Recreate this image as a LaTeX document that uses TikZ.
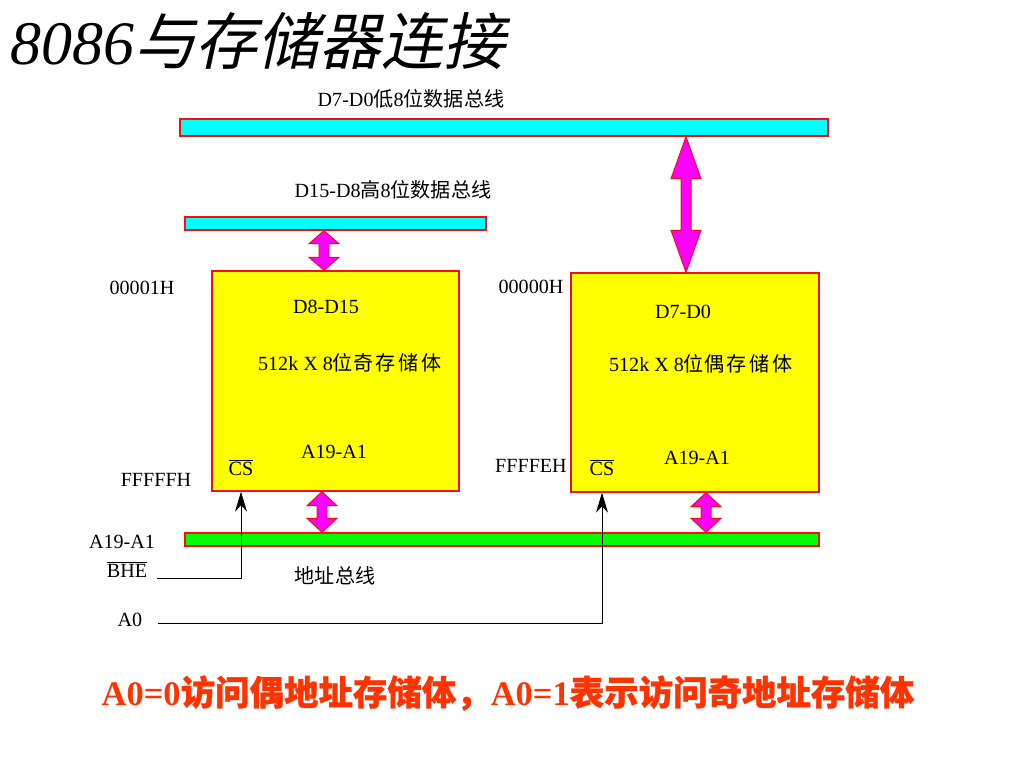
\documentclass[tikz,border=0pt]{standalone}
\usepackage{fontspec}
\setmainfont{Liberation Serif}
\newfontfamily\cjk{Noto Sans CJK SC}
\newfontfamily\cjkit[FakeSlant=0.22]{Noto Sans CJK SC}
\newfontfamily\cjkbf[FakeBold=0.9]{Noto Sans CJK SC}
\usepackage{tikz}
\usetikzlibrary{arrows.meta,positioning,calc,fit}
\definecolor{buscyan}{HTML}{00FFFF}
\definecolor{busgreen}{HTML}{00FF00}
\definecolor{bankyellow}{HTML}{FFFF00}
\definecolor{arrowpink}{HTML}{FF00FF}
\definecolor{edgered}{HTML}{F01010}
\definecolor{notered}{HTML}{FF3300}
\tikzset{
  bus/.style={draw=edgered,line width=1pt,inner sep=0pt},
  bank/.style={draw=edgered,fill=bankyellow,line width=1pt,inner sep=0pt},
  busarrow/.style={draw=edgered,fill=arrowpink,line width=.7pt,line join=miter},
  lbl/.style={font=\fontsize{14.3pt}{17pt}\selectfont,inner sep=1pt},
  sig/.style={-{Stealth[length=5mm,width=3mm]},line width=.6pt,color=black},
}
\newcommand{\fatarrow}[3]{% #1 upper tip, #2 lower tip, #3 head length
  \draw[busarrow] (#1) -- ++(15,#3) -- ++(-10,0) -- ($(#2)+(5,-#3)$) -- ++(10,0)
    -- (#2) -- ++(-15,-#3) -- ++(10,0) -- ($(#1)+(-5,#3)$) -- ++(-10,0) -- cycle;}
\newcommand{\negsig}[1]{$\overline{\mbox{\vphantom{Ty}#1}}$}

\begin{document}
\begin{tikzpicture}[x=0.025cm,y=-0.025cm]
  \useasboundingbox[fill=white] (0,0) rectangle (1024,768);
  \node[anchor=base west,inner sep=0pt,font=\fontsize{44pt}{48pt}\selectfont] (title) at (10,65)
    {\itshape 8086{\cjkit 与存储器连接}};

  % data buses
  \node[bus,fill=buscyan,fit={(180,119) (828,136)}] (lowbus) {};
  \node[lbl] (lowbuslbl) at (411,99) {D7-D0{\cjk 低}8{\cjk 位数据总线}};
  \node[bus,fill=buscyan,fit={(185,217) (486,230)}] (highbus) {};
  \node[lbl] (highbuslbl) at (393,190) {D15-D8{\cjk 高}8{\cjk 位数据总线}};

  % memory banks
  \node[bank,fit={(212,271) (459,491)}] (oddbank) {};
  \node[bank,fit={(571,273) (819,492)}] (evenbank) {};
  \node[lbl] (odddata) at (326,307) {D8-D15};
  \node[lbl] (oddname) at (350,363) {512k\ X\ 8{\cjk 位奇\hspace{2pt}存\hspace{2pt}储\hspace{2pt}体}};
  \node[lbl] (oddaddr) at (334,452) {A19-A1};
  \node[lbl] (oddcs) at (241,470) {\negsig{CS}};
  \node[lbl] (evendata) at (683,312) {D7-D0};
  \node[lbl] (evenname) at (701,364) {512k\ X\ 8{\cjk 位偶\hspace{2pt}存\hspace{2pt}储\hspace{2pt}体}};
  \node[lbl] (evenaddr) at (697,458) {A19-A1};
  \node[lbl] (evencs) at (602,470) {\negsig{CS}};
  \node[lbl] (oddfirst) at (142,288) {00001H};
  \node[lbl] (oddlast) at (156,480) {FFFFFH};
  \node[lbl] (evenfirst) at (531,287) {00000H};
  \node[lbl] (evenlast) at (531,466) {FFFFEH};

  % address bus and signals
  \node[bus,fill=busgreen,fit={(185,533) (819,546)}] (addrbus) {};
  \node[lbl] (addrlbl) at (122,542) {A19-A1};
  \node[lbl] (addrname) at (335,576) {\cjk 地址总线};
  \node[lbl] (bhe) at (127,572) {\negsig{BHE}};
  \node[lbl] (azero) at (130,620) {A0};

  \coordinate (lowtap) at (686,0);
  \coordinate (hightap) at (324,0);
  \coordinate (oddtap) at (322,0);
  \coordinate (eventap) at (706,0);
  \fatarrow{lowbus.south -| lowtap}{evenbank.north -| lowtap}{42}
  \fatarrow{highbus.south -| hightap}{oddbank.north -| hightap}{13}
  \fatarrow{oddbank.south -| oddtap}{addrbus.north -| oddtap}{14}
  \fatarrow{evenbank.south -| eventap}{addrbus.north -| eventap}{14}

  \draw[sig] ([xshift=6pt]bhe.east |- 0,578) -| (oddbank.south -| oddcs);
  \draw[sig] ([xshift=10pt]azero.east |- 0,623) -| (evenbank.south -| evencs);

  \node[font=\fontsize{24.5pt}{28pt}\selectfont\bfseries,text=notered] (note) at (508,693)
    {A0=0{\cjkbf 访问偶地址存储体，}A0=1{\cjkbf 表示访问奇地址存储体}};
\end{tikzpicture}
\end{document}
